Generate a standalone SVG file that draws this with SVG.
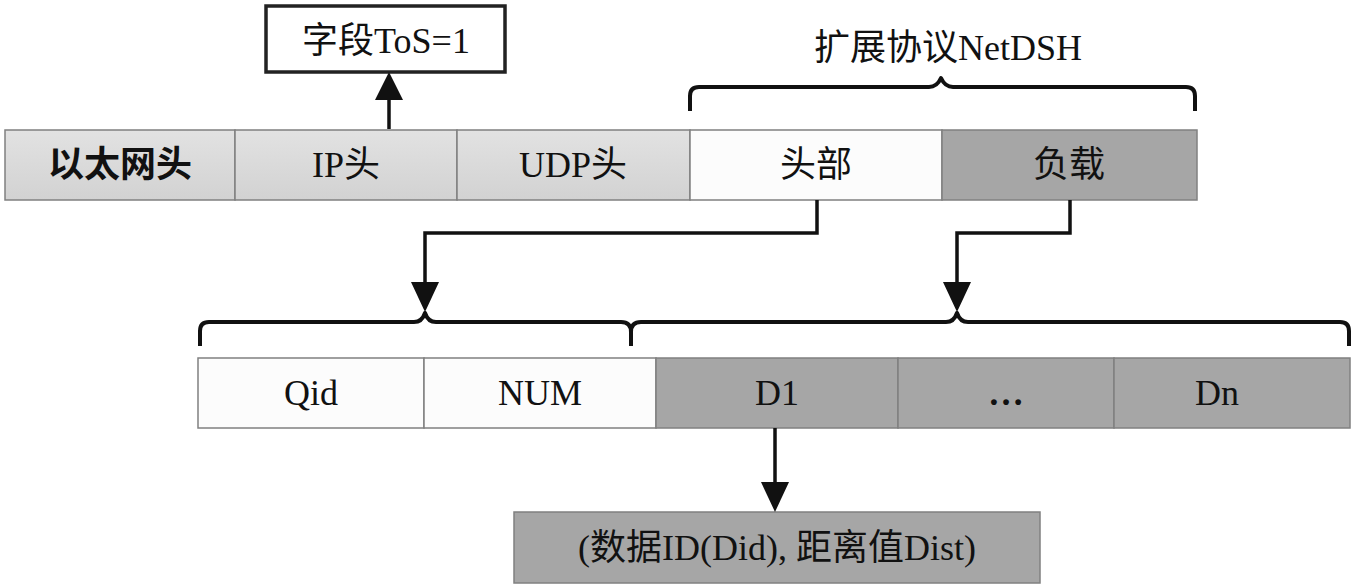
<svg xmlns="http://www.w3.org/2000/svg" width="1363" height="588" viewBox="0 0 1363 588">
<defs>
<linearGradient id="lg" x1="0" y1="0" x2="0" y2="1"><stop offset="0" stop-color="#e2e2e2"/><stop offset="1" stop-color="#d2d2d2"/></linearGradient>
</defs>
<style>
.cell{stroke:#808080;stroke-width:1.5}
.lite{fill:url(#lg)}
.white{fill:#fcfcfc}
.dark{fill:#a6a6a6}
.t{font-family:"Liberation Serif","Noto Sans CJK SC",serif;font-size:36px;fill:#111;text-anchor:middle;dominant-baseline:central}
.conn{fill:none;stroke:#111;stroke-width:3.5}
.arr{fill:#111}
.brace{fill:none;stroke:#111;stroke-width:4;stroke-linejoin:round}
</style>
<rect width="1363" height="588" fill="#fff"/>
<g id="tos"><rect x="266" y="6" width="239" height="66" fill="#fff" stroke="#222" stroke-width="3.5"/><text class="t" x="386" y="41">字段ToS=1</text></g>
<g id="eth"><rect class="cell lite" x="5" y="130" width="230" height="70"/><text class="t" x="120" y="165" font-weight="bold">以太网头</text></g>
<g id="ip"><rect class="cell lite" x="235" y="130" width="222" height="70"/><text class="t" x="346" y="165">IP头</text></g>
<g id="udp"><rect class="cell lite" x="457" y="130" width="233" height="70"/><text class="t" x="573" y="165">UDP头</text></g>
<g id="hdr"><rect class="cell white" x="690" y="130" width="252" height="70"/><text class="t" x="816" y="165">头部</text></g>
<g id="payload"><rect class="cell dark" x="942" y="130" width="255" height="70"/><text class="t" x="1069" y="165">负载</text></g>
<g id="netdsh"><text class="t" x="948" y="48">扩展协议NetDSH</text>
<path class="brace" d="M690,111 V96 Q690,87 699,87 H929 Q937,87 941,78 Q945,87 953,87 H1186 Q1195,87 1195,96 V111"/></g>
<g id="qid"><rect class="cell white" x="198" y="358" width="226" height="70"/><text class="t" x="311" y="393">Qid</text></g>
<g id="num"><rect class="cell white" x="424" y="358" width="232" height="70"/><text class="t" x="540" y="393">NUM</text></g>
<g id="d1"><rect class="cell dark" x="656" y="358" width="242" height="70"/><text class="t" x="777" y="393">D1</text></g>
<g id="dots"><rect class="cell dark" x="898" y="358" width="216" height="70"/><text class="t" x="1006" y="393" font-weight="bold">…</text></g>
<g id="dn"><rect class="cell dark" x="1114" y="358" width="236" height="70"/><text class="t" x="1217" y="393">Dn</text></g>
<g id="braces">
<path class="brace" d="M200,346 V331 Q200,322 209,322 H414 Q422,322 425,313 Q428,322 436,322 H621 Q631,322 631,332 V346"/>
<path class="brace" d="M631,332 Q631,322 641,322 H946 Q954,322 957,313 Q960,322 968,322 H1340 Q1349,322 1349,331 V346"/>
</g>
<g id="result"><rect class="cell dark" x="514" y="512" width="526" height="71"/><text class="t" x="777" y="548">(数据ID(Did), 距离值Dist)</text></g>
<g id="connectors">
<path class="conn" d="M389,129 V98"/>
<path class="arr" d="M375,100 L403,100 L389,72 z"/>
<path class="conn" d="M817,200 V233 H425 V285"/>
<path class="arr" d="M411,282 L439,282 L425,312 z"/>
<path class="conn" d="M1070,200 V233 H957 V285"/>
<path class="arr" d="M943,282 L971,282 L957,312 z"/>
<path class="conn" d="M775,428 V485"/>
<path class="arr" d="M761,482 L789,482 L775,512 z"/>
</g>
</svg>
